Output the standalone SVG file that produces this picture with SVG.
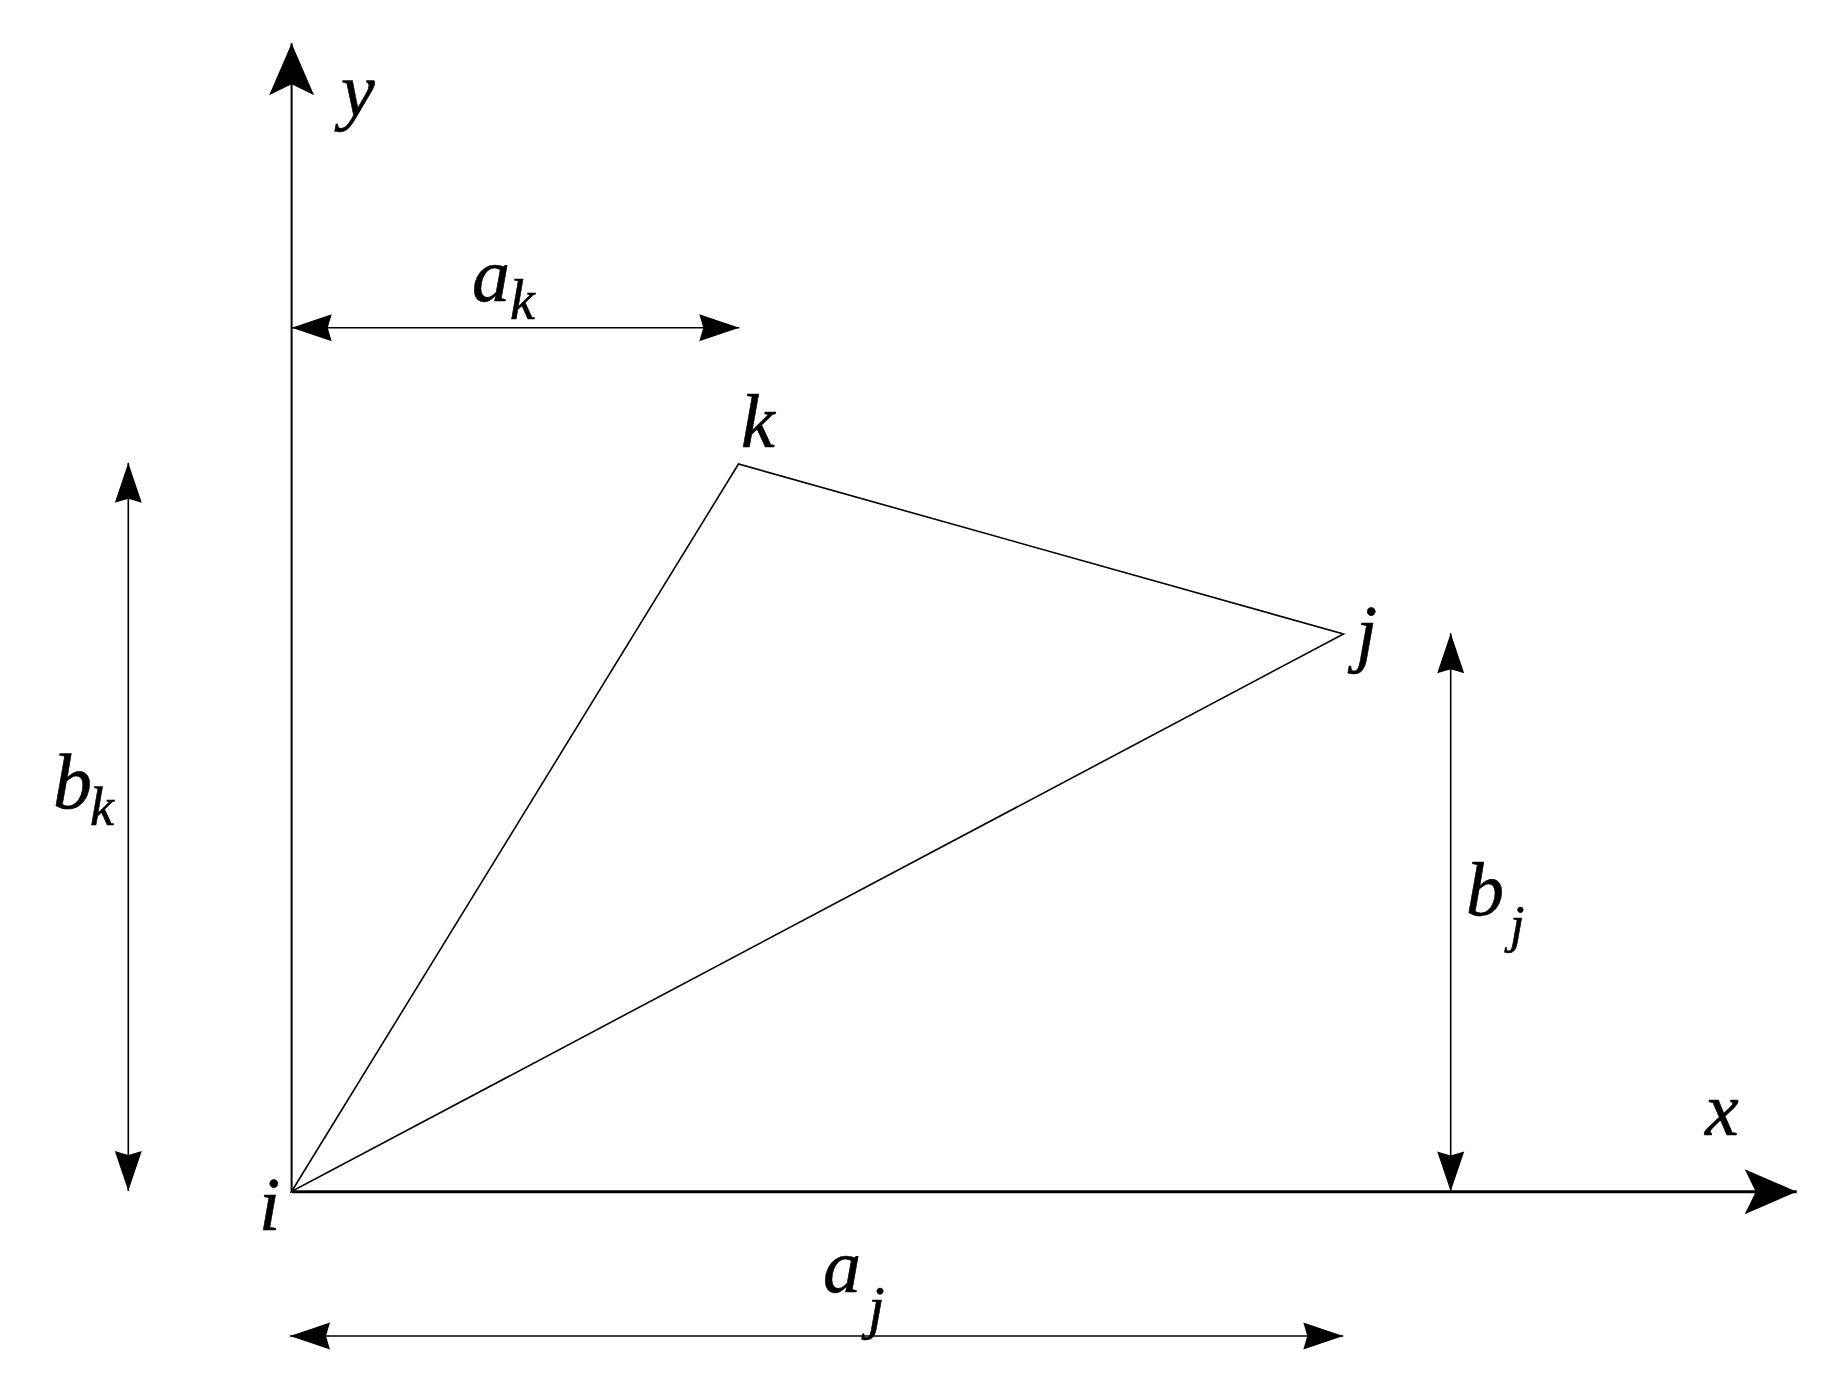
<svg xmlns="http://www.w3.org/2000/svg" width="1846" height="1384" viewBox="0 0 1846 1384">
<defs>
<style>
.ln{stroke:#000;fill:none;stroke-width:1.6}
.ax{stroke:#000;fill:none}
text{font-family:'Liberation Serif','Times New Roman','DejaVu Serif',serif;font-style:italic;fill:#000;stroke:#000;stroke-width:0.6}
</style>
<marker id="big" viewBox="-54 -24 56 48" refX="0" refY="0" markerWidth="56" markerHeight="48" markerUnits="userSpaceOnUse" orient="auto" overflow="visible">
<path d="M0,0 L-52,-22.5 L-41,0 L-52,22.5 Z" fill="#000"/>
</marker>
<marker id="sm" viewBox="-42 -15 44 30" refX="0" refY="0" markerWidth="44" markerHeight="30" markerUnits="userSpaceOnUse" orient="auto-start-reverse" overflow="visible">
<path d="M0,0 L-40,-13.5 L-36,0 L-40,13.5 Z" fill="#000"/>
</marker>
</defs>
<rect width="1846" height="1384" fill="#fff"/>
<g id="connectors">
<line id="y-axis" class="ax" stroke-width="2" x1="291.6" y1="1191.7" x2="291.6" y2="43.3" marker-end="url(#big)"/>
<line id="x-axis" class="ax" stroke-width="3" x1="291.6" y1="1191.7" x2="1796.7" y2="1191.7" marker-end="url(#big)"/>
<polygon id="triangle" class="ln" points="291.6,1191.5 738.5,464 1343.5,634"/>
<line id="dim-ak" class="ln" x1="291.7" y1="327.7" x2="739.3" y2="327.7" marker-start="url(#sm)" marker-end="url(#sm)"/>
<line id="dim-bk" class="ln" x1="128.3" y1="462.7" x2="128.3" y2="1191" marker-start="url(#sm)" marker-end="url(#sm)"/>
<line id="dim-bj" class="ln" x1="1450.7" y1="633.3" x2="1450.7" y2="1191.5" marker-start="url(#sm)" marker-end="url(#sm)"/>
<line id="dim-aj" class="ln" x1="290" y1="1336" x2="1343.3" y2="1336" marker-start="url(#sm)" marker-end="url(#sm)"/>
</g>
<g id="node-y"><text x="341" y="115.5" font-size="76" font-family="Liberation Serif, serif">y</text></g>
<g id="node-x"><text x="1705" y="1135" font-size="76" font-family="Liberation Serif, serif">x</text></g>
<g id="node-i"><text x="259" y="1230" font-size="76" font-family="Liberation Serif, serif">i</text></g>
<g id="node-k"><text x="741" y="447" font-size="76" font-family="Liberation Serif, serif">k</text></g>
<g id="node-j"><text x="1356" y="658" font-size="76" font-family="Liberation Serif, serif">j</text></g>
<g id="label-ak"><text x="472" y="301" font-size="76" font-family="Liberation Serif, serif">a</text><text x="510" y="319" font-size="56" font-family="Liberation Serif, serif">k</text></g>
<g id="label-bk"><text x="53" y="808" font-size="78" font-family="Liberation Serif, serif">b</text><text x="90" y="825" font-size="54" font-family="Liberation Serif, serif">k</text></g>
<g id="label-bj"><text x="1466" y="915" font-size="76" font-family="Liberation Serif, serif">b</text><text x="1510" y="942" font-size="52" font-family="Liberation Serif, serif">j</text></g>
<g id="label-aj"><text x="823" y="1292" font-size="76" font-family="Liberation Serif, serif">a</text><text x="868" y="1327" font-size="60" font-family="Liberation Serif, serif">j</text></g>
</svg>
